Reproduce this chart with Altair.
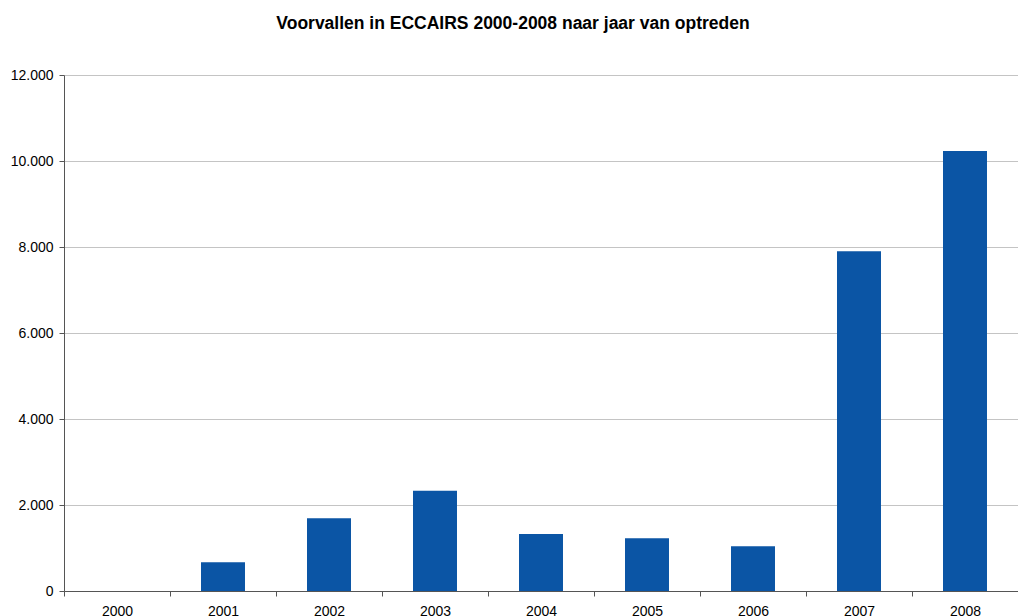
import altair as alt
import pandas as pd

years = ["2000", "2001", "2002", "2003", "2004", "2005", "2006", "2007", "2008"]
counts = [0, 670, 1690, 2330, 1325, 1225, 1040, 7900, 10230]
y_ticks = [0, 2000, 4000, 6000, 8000, 10000, 12000]
title_text = "Voorvallen in ECCAIRS 2000-2008 naar jaar van optreden"

df = pd.DataFrame({"jaar": years, "aantal": counts})

FONT = "Liberation Sans"

chart = alt.Chart(df).mark_bar(color="#0B55A5", width=alt.RelativeBandSize(0.415)).encode(
    x=alt.X(
        "jaar:N", sort=None, title=None,
        scale=alt.Scale(paddingInner=0, paddingOuter=0),
        axis=alt.Axis(
            labelAngle=0, tickBand="extent", labelFontSize=14, labelColor="#000000",
            labelFont=FONT, domainColor="#555555", tickColor="#555555", tickSize=5,
            labelPadding=8, grid=False,
        ),
    ),
    y=alt.Y(
        "aantal:Q", title=None,
        scale=alt.Scale(domain=[0, 12000], nice=False),
        axis=alt.Axis(
            values=y_ticks,
            labelExpr="replace(format(datum.value, ','), ',', '.')",
            labelFontSize=14, labelColor="#000000", labelFont=FONT,
            domainColor="#555555", tickColor="#555555", tickSize=5, labelPadding=6,
            gridColor="#c4c4c4", gridWidth=1,
        ),
    ),
).properties(
    width=954,
    height=516,
    title=alt.TitleParams(
        text=title_text, font=FONT, fontSize=17.5, fontWeight="bold", color="#000000",
        anchor="middle", dx=-28, offset=36,
    ),
    autosize=alt.AutoSizeParams(type="none"),
    padding={"left": 56, "top": 67, "right": 0, "bottom": 25},
).configure_view(stroke=None)

chart.save("out.html", embed_options={"renderer": "svg", "actions": False})
